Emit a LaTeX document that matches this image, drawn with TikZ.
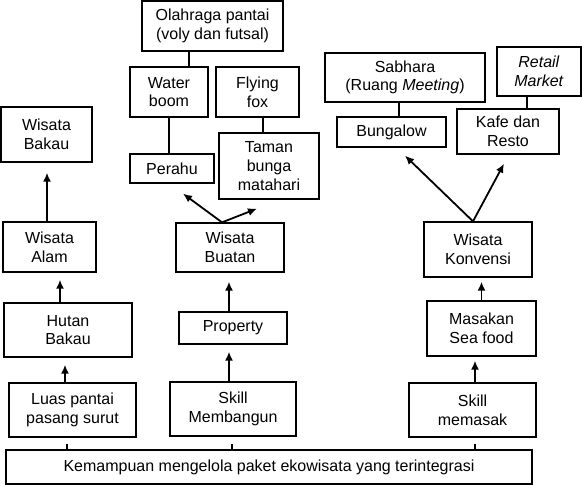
\documentclass[tikz,border=0pt]{standalone}
\usepackage{fontspec}
\setmainfont{Liberation Sans}
\usetikzlibrary{arrows.meta,calc}

\begin{document}
\begin{tikzpicture}[
    x=1pt, y=-1pt,
    box/.style={draw, line width=1.3pt, inner sep=2pt, align=center, font=\fontsize{16}{18.7}\selectfont},
    arr/.style={-{Latex[length=9pt,width=8pt]}, line width=1.8pt},
    link/.style={line width=1.8pt}
]
\useasboundingbox (0,0) rectangle (582,485);

\node[box, minimum width=141pt, minimum height=50pt] (olahraga) at (212.5,26) {Olahraga pantai\\(voly dan futsal)};
\node[box, minimum width=78pt, minimum height=50pt] (waterboom) at (169,92) {Water\\boom};
\node[box, minimum width=83pt, minimum height=50pt] (flyingfox) at (257.5,92) {Flying\\fox};
\node[box, minimum width=84pt, minimum height=29pt] (perahu) at (172,168.5) {Perahu};
\node[box, minimum width=100pt, minimum height=66pt] (taman) at (269,166) {Taman\\bunga\\matahari};
\node[box, minimum width=160pt, minimum height=49pt] (sabhara) at (405,77.5) {Sabhara\\(Ruang \textit{Meeting})};
\node[box, minimum width=84pt, minimum height=49pt] (retail) at (539,71.5) {\textit{Retail}\\\textit{Market}};
\node[box, minimum width=109pt, minimum height=30pt] (bungalow) at (391.5,132) {Bungalow};
\node[box, minimum width=102pt, minimum height=45pt] (kafe) at (508,131.5) {Kafe dan\\Resto};
\node[box, minimum width=91pt, minimum height=55pt] (wbakau) at (46.5,134.5) {Wisata\\Bakau};
\node[box, minimum width=93pt, minimum height=50pt] (walam) at (49.5,247) {Wisata\\Alam};
\node[box, minimum width=108pt, minimum height=49pt] (wbuatan) at (230,247.5) {Wisata\\Buatan};
\node[box, minimum width=108pt, minimum height=55pt] (wkonvensi) at (478,249.5) {Wisata\\Konvensi};
\node[box, minimum width=128pt, minimum height=54pt] (hutan) at (68,330) {Hutan\\Bakau};
\node[box, minimum width=108pt, minimum height=32pt] (property) at (233,328) {Property};
\node[box, minimum width=109pt, minimum height=55pt] (masakan) at (481.5,328.5) {Masakan\\Sea food};
\node[box, minimum width=127pt, minimum height=54pt] (luas) at (72.5,410) {Luas pantai\\pasang surut};
\node[box, minimum width=126pt, minimum height=54pt] (skillbangun) at (233,409) {Skill\\Membangun};
\node[box, minimum width=127pt, minimum height=54pt] (skillmasak) at (472.5,410) {Skill\\memasak};
\node[box, minimum width=526pt, minimum height=34pt] (dasar) at (269,467) {Kemampuan mengelola paket ekowisata yang terintegrasi};

\draw[link] ([xshift=-23.5pt]olahraga.south) -- ([xshift=-23.5pt]olahraga.south |- waterboom.north);
\draw[link] (waterboom.south) -- (waterboom.south |- perahu.north);
\draw[link] ([xshift=5.5pt]flyingfox.south) -- ([xshift=5.5pt]flyingfox.south |- taman.north);
\draw[link] ([xshift=-6pt]sabhara.south) -- ([xshift=-6pt]sabhara.south |- bungalow.north);
\draw[link] ([xshift=-12pt]retail.south) -- ([xshift=-12pt]retail.south |- kafe.north);

\draw[arr] ([xshift=-8pt]wbuatan.north) -- ([xshift=11pt,yshift=-10pt]perahu.south);
\draw[arr] ([xshift=-8pt]wbuatan.north) -- ([xshift=-12pt,yshift=-9pt]taman.south);
\draw[arr] ([xshift=-5pt]wkonvensi.north) -- ([xshift=13.5pt,yshift=-8pt]bungalow.south);
\draw[arr] ([xshift=-5pt]wkonvensi.north) -- ([xshift=-4pt,yshift=-9pt]kafe.south);

\draw[arr, shorten >=10pt] ([xshift=-2.5pt]walam.north) -- ([xshift=-2.5pt]walam.north |- wbakau.south);
\draw[arr, shorten >=7pt] ([xshift=-8pt]hutan.north) -- ([xshift=-8pt]hutan.north |- walam.south);
\draw[arr, shorten >=7pt] ([xshift=-7.5pt]luas.north) -- ([xshift=-7.5pt]luas.north |- hutan.south);
\draw[arr, shorten >=7pt] ([xshift=-4pt]skillbangun.north) -- ([xshift=-4pt]skillbangun.north |- property.south);
\draw[arr, shorten >=9pt] ([xshift=-4pt]property.north) -- ([xshift=-4pt]property.north |- wbuatan.south);
\draw[arr, shorten >=4pt] ([xshift=2.5pt]skillmasak.north) -- ([xshift=2.5pt]skillmasak.north |- masakan.south);
\draw[arr, shorten >=4pt] (masakan.north) -- (masakan.north |- wkonvensi.south);

\draw[link, shorten >=6pt] ([xshift=-5.5pt]luas.south |- dasar.north) -- ([xshift=-5.5pt]luas.south);
\draw[link, shorten >=7pt] ([xshift=-1pt]skillbangun.south |- dasar.north) -- ([xshift=-1pt]skillbangun.south);
\draw[link, shorten >=6pt] ([xshift=2.5pt]skillmasak.south |- dasar.north) -- ([xshift=2.5pt]skillmasak.south);
\end{tikzpicture}
\end{document}
